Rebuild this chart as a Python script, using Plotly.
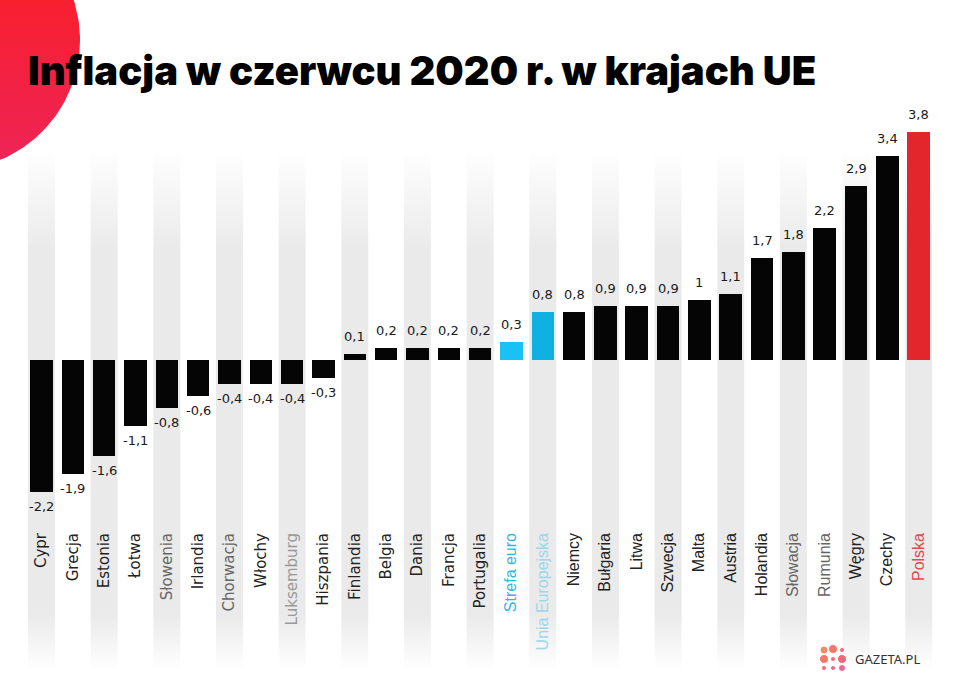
import numpy as np
import plotly.graph_objects as go

# ---- data ----
categories = ["Cypr", "Grecja", "Estonia", "Łotwa", "Słowenia", "Irlandia", "Chorwacja", "Włochy",
              "Luksemburg", "Hiszpania", "Finlandia", "Belgia", "Dania", "Francja", "Portugalia",
              "Strefa euro", "Unia Europejska", "Niemcy", "Bułgaria", "Litwa", "Szwecja", "Malta",
              "Austria", "Holandia", "Słowacja", "Rumunia", "Węgry", "Czechy", "Polska"]
values = [-2.2, -1.9, -1.6, -1.1, -0.8, -0.6, -0.4, -0.4, -0.4, -0.3, 0.1, 0.2, 0.2, 0.2, 0.2,
          0.3, 0.8, 0.8, 0.9, 0.9, 0.9, 1.0, 1.1, 1.7, 1.8, 2.2, 2.9, 3.4, 3.8]
bar_colors = ["#050505"] * 15 + ["#19c2f2", "#0fb0e2"] + ["#050505"] * 11 + ["#e2262b"]
label_colors = ["#222", "#222", "#222", "#222", "#666", "#222", "#666", "#222", "#999", "#222",
                "#222", "#222", "#222", "#222", "#222", "#33b5df", "#9bd7ec", "#222", "#222", "#222",
                "#222", "#222", "#222", "#222", "#666", "#666", "#222", "#222", "#e04a4e"]
label_fonts = ["DejaVu Sans"] * 15 + ["Liberation Sans"] * 14
label_sizes = [15] * 15 + [16] * 14
title = "Inflacja w czerwcu 2020 r. w krajach UE"

n = len(categories)
xs = list(range(n))

# screen pixel -> figure/data helpers
W, H = 960, 690
STEP = 31.33
X0 = 41.5
ZERO = 360.0
PPU = 60.0
def px2x(px):
    return (px - X0) / STEP
def px2y(py):
    return (ZERO - py) / PPU
def px2paper_x(px):
    return px / W
def px2paper_y(py):
    return 1 - py / H

fig = go.Figure()

# decorative red circle (top-left)
t = np.linspace(0, 2 * np.pi, 200)
cx, cy, r = -50, 40, 130
fig.add_trace(go.Scatter(
    x=[px2x(cx + r * np.cos(a)) for a in t], y=[px2y(cy + r * np.sin(a)) for a in t],
    mode="lines", fill="toself", line=dict(width=0),
    fillgradient=dict(type="vertical", colorscale=[[0, "#ee2458"], [0.5, "#f5213a"], [1, "#ff1c14"]]),
    hoverinfo="skip", showlegend=False, xaxis="x", yaxis="y"))

# background stripes
sy0, sy1 = px2y(670), px2y(110)
for i in range(0, n, 2):
    fig.add_trace(go.Scatter(
        x=[i - 0.43, i + 0.43, i + 0.43, i - 0.43, i - 0.43],
        y=[sy0, sy0, sy1, sy1, sy0],
        mode="lines", fill="toself", line=dict(width=0),
        fillgradient=dict(type="vertical", colorscale=[
            [0, "rgba(234,234,234,0)"], [0.1, "rgba(234,234,234,1)"],
            [0.75, "rgba(234,234,234,1)"], [0.93, "rgba(234,234,234,0)"], [1, "rgba(234,234,234,0)"]]),
        hoverinfo="skip", showlegend=False, xaxis="x", yaxis="y"))

fig.add_trace(go.Bar(
    x=xs, y=values, width=0.72, marker=dict(color=bar_colors, line=dict(width=0)),
    hoverinfo="skip", showlegend=False, xaxis="x2", yaxis="y2"))

# value labels
texts = [f"{v:g}".replace(".", ",") for v in values]
annotations = []
for i, (v, tx) in enumerate(zip(values, texts)):
    annotations.append(dict(
        text=tx, x=i, y=v, xref="x2", yref="y2", showarrow=False,
        yanchor="bottom" if v >= 0 else "top", yshift=8 if v >= 0 else -5,
        font=dict(family="DejaVu Sans", size=13, color="#1a1a1a")))

# logo dots
dot_px = [(824, 650, 8, "#f05a28"), (833, 649, 9, "#f0402a"), (842, 650, 5, "#e8303a"),
          (824, 659, 9, "#f0402a"), (833, 659, 5, "#e8303a"), (842, 659, 9, "#e82a40"),
          (824, 668, 5, "#e8304a"), (833, 668, 5, "#e02a50"), (842, 668, 7, "#e0286a")]
fig.add_trace(go.Scatter(
    x=[px2x(d[0]) for d in dot_px], y=[px2y(d[1]) for d in dot_px], mode="markers",
    marker=dict(size=[d[2] for d in dot_px], color=[d[3] for d in dot_px]),
    hoverinfo="skip", showlegend=False, cliponaxis=False, xaxis="x2", yaxis="y2"))

ticktext = [f'<span style="color:{c};font-family:{f};font-size:{s}px">{lab}</span>'
            for lab, c, f, s in zip(categories, label_colors, label_fonts, label_sizes)]

annotations += [
    dict(text=title, xref="paper", yref="paper", x=px2paper_x(26), y=px2paper_y(70),
         xanchor="left", yanchor="middle", showarrow=False,
         font=dict(family="Inter", size=40, color="#000", weight=900)),
    dict(text="GAZETA.PL", xref="paper", yref="paper", x=px2paper_x(853), y=px2paper_y(659),
         xanchor="left", yanchor="middle", showarrow=False,
         font=dict(family="Noto Sans", size=13, color="#333")),
]

xr = [px2x(0), px2x(W)]
yr = [px2y(H), px2y(0)]
fig.update_layout(
    width=W, height=H, autosize=False,
    margin=dict(l=0, r=0, t=0, b=0),
    paper_bgcolor="white", plot_bgcolor="rgba(0,0,0,0)",
    bargap=0, hovermode=False, dragmode=False,
    xaxis=dict(range=xr, tickvals=xs, ticktext=ticktext, tickangle=-90,
               showgrid=False, zeroline=False, showline=False, ticks="",
               anchor="free", position=px2paper_y(529), fixedrange=True,
               tickfont=dict(family="Liberation Sans", size=15, color="#222")),
    yaxis=dict(range=yr, showgrid=False, zeroline=False, showticklabels=False,
               showline=False, ticks="", fixedrange=True),
    xaxis2=dict(range=xr, overlaying="x", visible=False, anchor="y2", fixedrange=True),
    yaxis2=dict(range=yr, overlaying="y", visible=False, anchor="x2", fixedrange=True),
    annotations=annotations,
)

fig.write_html("out.html", config={"displayModeBar": False},
               post_script="document.body.style.margin='0';")
